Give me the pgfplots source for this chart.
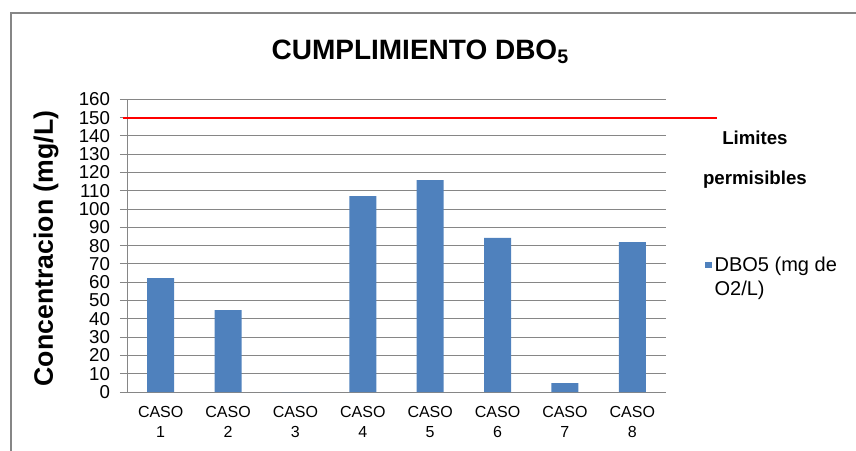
\documentclass[border=0pt]{standalone}
\usepackage{fontspec}
\setmainfont{Liberation Sans}
\usepackage{pgfplots}
\pgfplotsset{compat=1.18}
\definecolor{barblue}{HTML}{4F81BD}
\definecolor{gridgray}{HTML}{868686}
\definecolor{framegray}{HTML}{868686}

\begin{document}
\begin{tikzpicture}
\useasboundingbox (-95.25pt,-43.5pt) rectangle (546.75pt,294pt);
\draw[framegray,line width=1.5pt,line cap=rect] (-87pt,-43.5pt) -- (-87pt,284pt) -- (546.75pt,284pt);
\begin{axis}[at={(0,0)},anchor=south west,scale only axis,
 width=404.25pt,height=219.5pt,
 xmin=-0.5,xmax=7.5,ymin=0,ymax=160,clip=false,
 xtick={0,...,7},
 xticklabels={CASO\\1,CASO\\2,CASO\\3,CASO\\4,CASO\\5,CASO\\6,CASO\\7,CASO\\8},
 ytick={0,10,...,160},
 axis lines*=left,axis line style={gridgray,-},
 ymajorgrids,grid style={gridgray,line width=0.75pt},
 tick align=outside,major tick length=5.25pt,
 xtick style={draw=none},ytick style={gridgray,line width=0.75pt},
 /pgf/number format/assume math mode=true,
 x tick label style={align=center,font=\fontsize{12}{15}\selectfont,yshift=-2pt},
 y tick label style={font=\fontsize{14}{14}\selectfont,xshift=-4pt},
 title={\textbf{CUMPLIMIENTO DBO\textsubscript{5}}},
 title style={at={(axis description cs:0.544,1.11)},anchor=base,font=\fontsize{21}{21}\selectfont},
 ylabel={\textbf{Concentracion (mg/L)}},
 ylabel style={at={(axis description cs:-0.150,0.49)},anchor=center,font=\fontsize{20}{20}\selectfont},
 legend style={draw=none,fill=none,at={(axis cs:8.02,62.6)},anchor=west,
  font=\fontsize{15}{18}\selectfont,cells={align=left}},
 legend image code/.code={\fill[barblue] (0pt,6.8pt) rectangle (5pt,11.8pt);}]
\addplot[ybar,bar width=20.25pt,fill=barblue,draw=none] coordinates {
 (0,62.3) (1,44.8) (2,0) (3,107.1) (4,115.8) (5,84.2) (6,4.9) (7,82)};
\addlegendentry{DBO5 (mg de\\O2/L)}
\addplot[red,line width=1.5pt,forget plot] coordinates {(-0.56,150) (8.25,150)};
\node[font=\bfseries\fontsize{14}{14}\selectfont] at (axis cs:8.82,138.8) {Limites};
\node[font=\bfseries\fontsize{14}{14}\selectfont] at (axis cs:8.82,115.9) {permisibles};
\end{axis}
\end{tikzpicture}
\end{document}
